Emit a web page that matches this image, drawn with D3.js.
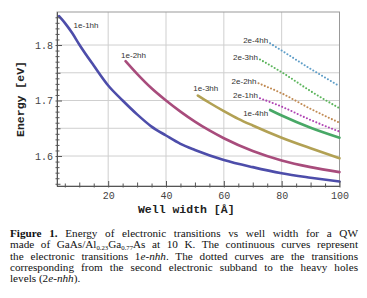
<!DOCTYPE html>
<html>
<head>
<meta charset="utf-8">
<script src="https://cdnjs.cloudflare.com/ajax/libs/d3/7.8.5/d3.min.js"></script>
<style>
body { margin: 0; background: #fff; }
#chart { position: absolute; left: 0; top: 0; }
#caption {
    position: absolute; left: 10px; top: 228px; width: 348px;
    font-family: "Liberation Serif", "Times New Roman", serif;
    font-size: 11.2px; line-height: 11.25px; color: #111;
}
#caption div { text-align: justify; text-align-last: justify; height: 11.25px; }
#caption div.last { text-align-last: left; }
#caption .sb { font-size: 60%; position: relative; top: 1.5px; line-height: 1; }
</style>
</head>
<body>
<div id="chart"></div>
<div id="caption">
    <div><b>Figure 1.</b> Energy of electronic transitions vs well width for a QW</div>
    <div>made of GaAs/Al<span class="sb">0.23</span>Ga<span class="sb">0.77</span>As at 10 K. The continuous curves represent</div>
    <div>the electronic transitions 1<i>e-nhh</i>. The dotted curves are the transitions</div>
    <div>corresponding from the second electronic subband to the heavy holes</div>
    <div class="last">levels (2<i>e-nhh</i>).</div>
</div>
<script>
// well width [A] , energy [eV] pairs
const e1hh = [[3,1.852],[5,1.840],[7.5,1.822],[10,1.801],[15,1.763],[20,1.727],[25,1.700],[30,1.675],[35,1.653],[40,1.637],[45,1.622],[50,1.611],[60,1.593],[70,1.580],[80,1.569],[90,1.561],[100,1.554]];
const e2hh = [[26,1.771],[30,1.748],[35,1.722],[40,1.700],[45,1.680],[50,1.662],[55,1.646],[60,1.632],[70,1.609],[80,1.592],[90,1.580],[100,1.571]];
const e3hh = [[51,1.709],[55,1.696],[60,1.681],[65,1.667],[70,1.655],[80,1.633],[90,1.614],[100,1.596]];
const e4hh = [[76,1.683],[80,1.673],[90,1.651],[100,1.633]];
const d1hh = [[72.5,1.704],[80,1.689],[90,1.665],[100,1.644]];
const d2hh = [[72,1.731],[80,1.713],[90,1.685],[100,1.660]];
const d3hh = [[72.5,1.774],[80,1.751],[90,1.717],[100,1.686]];
const d4hh = [[76,1.803],[80,1.790],[90,1.757],[100,1.726]];

const seriesNames = ["1e-1hh","1e-2hh","1e-3hh","1e-4hh","2e-1hh","2e-2hh","2e-3hh","2e-4hh"];
const xTickLabels = [20, 40, 60, 80, 100];
const yTickLabels = [1.6, 1.7, 1.8];

const series = [
    {name: seriesNames[0], data: e1hh, color: "#4d4daa", dotted: false, dx: 27, dy: 12, anchor: "middle"},
    {name: seriesNames[1], data: e2hh, color: "#a84c7c", dotted: false, dx: 8, dy: -3, anchor: "middle"},
    {name: seriesNames[2], data: e3hh, color: "#b2a154", dotted: false, dx: 8, dy: -5, anchor: "middle"},
    {name: seriesNames[3], data: e4hh, color: "#48a866", dotted: false, dx: -2, dy: 6, anchor: "end"},
    {name: seriesNames[4], data: d1hh, color: "#b044b4", dotted: true, dx: -2, dy: 0, anchor: "end"},
    {name: seriesNames[5], data: d2hh, color: "#c08a52", dotted: true, dx: -2, dy: 1, anchor: "end"},
    {name: seriesNames[6], data: d3hh, color: "#5cb55c", dotted: true, dx: -2, dy: 1, anchor: "end"},
    {name: seriesNames[7], data: d4hh, color: "#5f9ec8", dotted: true, dx: -2, dy: 0, anchor: "end"}
];

const W = 367, H = 220;
const plotL = 57, plotR = 339.5, plotT = 12, plotB = 186;

const svg = d3.select("#chart")
    .append("svg")
    .attr("width", W)
    .attr("height", H);

const x = d3.scaleLinear().domain([2.3, 100]).range([plotL, plotR]);
const y = d3.scaleLinear().domain([1.546, 1.8595]).range([plotB, plotT]);

// grid
svg.append("g")
    .selectAll("line")
    .data([20, 40, 60, 80])
    .enter().append("line")
    .attr("x1", d => x(d)).attr("x2", d => x(d))
    .attr("y1", plotT).attr("y2", plotB)
    .attr("stroke", "#cfcfcf");
svg.append("g")
    .selectAll("line")
    .data([1.6, 1.65, 1.7, 1.75, 1.8])
    .enter().append("line")
    .attr("x1", plotL).attr("x2", plotR)
    .attr("y1", d => y(d)).attr("y2", d => y(d))
    .attr("stroke", "#cfcfcf");

// frame
svg.append("rect")
    .attr("x", plotL).attr("y", plotT)
    .attr("width", plotR - plotL).attr("height", plotB - plotT)
    .attr("fill", "none")
    .attr("stroke", "#999");

// curves
const line = d3.line()
    .x(d => x(d[0]))
    .y(d => y(d[1]))
    .curve(d3.curveMonotoneX);

series.forEach(s => {
    const p = svg.append("path")
        .attr("d", line(s.data))
        .attr("fill", "none")
        .attr("stroke", s.color)
        .attr("stroke-linecap", "round");
    if (s.dotted) {
        p.attr("stroke-width", 2.1).attr("stroke-dasharray", "0,3.4");
    } else {
        p.attr("stroke-width", 2.6);
    }
    svg.append("text")
        .attr("x", x(s.data[0][0]) + s.dx)
        .attr("y", y(s.data[0][1]) + s.dy)
        .attr("text-anchor", s.anchor)
        .style("font-family", "Liberation Sans, Arial, sans-serif")
        .style("font-size", "8px")
        .style("fill", "#333")
        .text(s.name);
});

// axes
const monoFont = "'Liberation Mono', 'Courier New', monospace";

const xMinor = d3.range(5, 100, 5).filter(d => d % 10 !== 0);
const xMid = [10, 30, 50, 70, 90];
const yMinor = d3.range(155, 186).filter(d => d % 5 !== 0).map(d => d / 100);
const yMid = [1.55, 1.65, 1.75, 1.85];

function tickAxis(axis, values, size) {
    return axis.tickValues(values).tickSize(-size).tickSizeOuter(0).tickFormat("");
}

const gx = svg.append("g").attr("transform", `translate(0,${plotB})`);
gx.append("g").call(tickAxis(d3.axisBottom(x), xMinor, 2.5));
gx.append("g").call(tickAxis(d3.axisBottom(x), xMid, 3.5));
gx.append("g").call(d3.axisBottom(x).tickValues(xTickLabels).tickSize(-5).tickSizeOuter(0).tickPadding(6));

const gy = svg.append("g").attr("transform", `translate(${plotL},0)`);
gy.append("g").call(tickAxis(d3.axisLeft(y), yMinor, 2.5));
gy.append("g").call(tickAxis(d3.axisLeft(y), yMid, 3.5));
gy.append("g").call(d3.axisLeft(y).tickValues(yTickLabels).tickSize(-5).tickSizeOuter(0).tickPadding(4).tickFormat(d3.format(".1f")));

gx.selectAll(".tick line").attr("y1", 1.5);
gy.selectAll(".tick line").attr("x1", -1.5);
svg.selectAll(".domain").attr("stroke", "#555");
svg.selectAll(".tick line").attr("stroke", "#555");
svg.selectAll(".tick text")
    .style("font-family", monoFont)
    .style("font-size", "10px")
    .style("fill", "#444");

// axis titles
svg.append("text")
    .attr("x", (plotL + plotR) / 2 - 12)
    .attr("y", 213)
    .attr("text-anchor", "middle")
    .style("font-family", monoFont)
    .style("font-weight", "bold")
    .style("font-size", "11.5px")
    .style("fill", "#222")
    .text("Well width [Å]");

svg.append("text")
    .attr("transform", `translate(24,${(plotT + plotB) / 2}) rotate(-90)`)
    .attr("text-anchor", "middle")
    .style("font-family", monoFont)
    .style("font-weight", "bold")
    .style("font-size", "11.5px")
    .style("fill", "#222")
    .text("Energy [eV]");
</script>
</body>
</html>
